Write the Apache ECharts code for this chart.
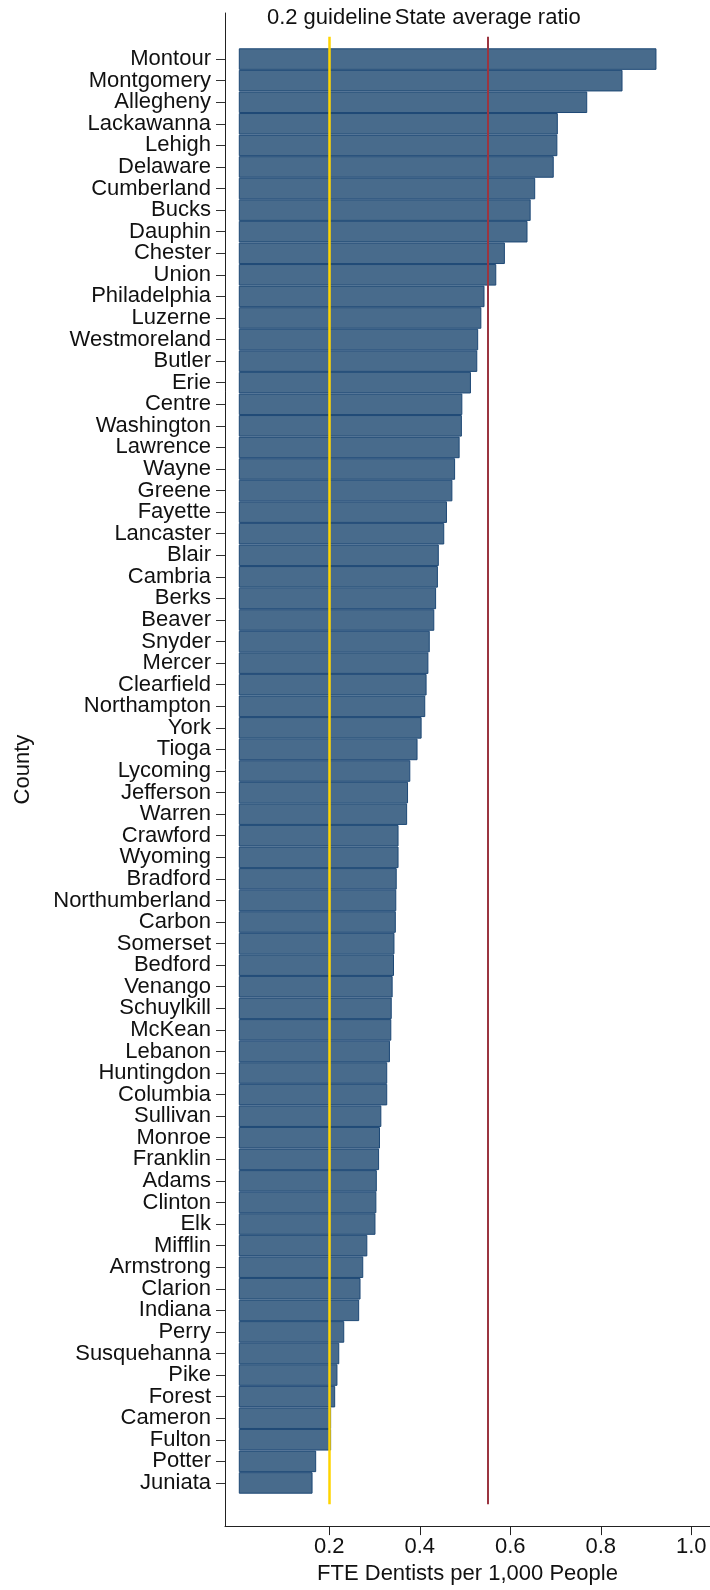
<!DOCTYPE html>
<html>
<head>
<meta charset="utf-8">
<script src="https://cdn.jsdelivr.net/npm/echarts@6/dist/echarts.min.js"></script>
<style>
  html, body { margin: 0; padding: 0; background: #fff; }
  #chart { width: 710px; height: 1590px; }
</style>
</head>
<body>
<div id="chart"></div>
<script>
const counties = [
  'Montour', 'Montgomery', 'Allegheny', 'Lackawanna', 'Lehigh', 'Delaware', 'Cumberland', 'Bucks',
  'Dauphin', 'Chester', 'Union', 'Philadelphia', 'Luzerne', 'Westmoreland', 'Butler', 'Erie',
  'Centre', 'Washington', 'Lawrence', 'Wayne', 'Greene', 'Fayette', 'Lancaster', 'Blair',
  'Cambria', 'Berks', 'Beaver', 'Snyder', 'Mercer', 'Clearfield', 'Northampton', 'York',
  'Tioga', 'Lycoming', 'Jefferson', 'Warren', 'Crawford', 'Wyoming', 'Bradford', 'Northumberland',
  'Carbon', 'Somerset', 'Bedford', 'Venango', 'Schuylkill', 'McKean', 'Lebanon', 'Huntingdon',
  'Columbia', 'Sullivan', 'Monroe', 'Franklin', 'Adams', 'Clinton', 'Elk', 'Mifflin',
  'Armstrong', 'Clarion', 'Indiana', 'Perry', 'Susquehanna', 'Pike', 'Forest', 'Cameron',
  'Fulton', 'Potter', 'Juniata'
];

const ratios = [
  0.923, 0.848, 0.770, 0.705, 0.704, 0.696, 0.655, 0.645,
  0.638, 0.588, 0.569, 0.543, 0.536, 0.529, 0.527, 0.513,
  0.494, 0.493, 0.488, 0.478, 0.472, 0.460, 0.454, 0.442,
  0.440, 0.436, 0.432, 0.422, 0.419, 0.415, 0.412, 0.404,
  0.395, 0.379, 0.374, 0.372, 0.353, 0.353, 0.349, 0.348,
  0.347, 0.344, 0.343, 0.340, 0.338, 0.337, 0.334, 0.328,
  0.328, 0.315, 0.312, 0.310, 0.305, 0.304, 0.302, 0.284,
  0.275, 0.269, 0.266, 0.233, 0.222, 0.218, 0.213, 0.204,
  0.204, 0.171, 0.163
];

const xTicks = [0.2, 0.4, 0.6, 0.8, 1.0];
const guideline = 0.2;
const stateAverage = 0.546;

const xMin = -0.0305;
const xMax = 1.0413;
const font = '"Liberation Sans", Arial, Helvetica, sans-serif';

const chart = echarts.init(document.getElementById('chart'), null, { renderer: 'canvas' });

const hiddenX = (gridIndex) => ({
  type: 'value', gridIndex, min: xMin, max: xMax,
  show: false, splitLine: { show: false }
});

chart.setOption({
  animation: false,
  backgroundColor: '#fff',
  textStyle: { fontFamily: font },
  grid: [
    // frame with the axes
    { left: 225, right: 0, top: 13, bottom: 61 },
    // bars
    { left: 225, right: 0, top: 48.3, height: 1445.4 },
    // guide lines
    { left: 225, right: 0, top: 36.7, height: 1467.6 }
  ],
  xAxis: [
    {
      type: 'value', gridIndex: 0, min: xMin, max: xMax,
      splitLine: { show: false },
      axisLine: { show: true, onZero: false, lineStyle: { color: '#222', width: 1 } },
      axisTick: { show: true, length: 9, customValues: xTicks, lineStyle: { color: '#222' } },
      axisLabel: {
        customValues: xTicks, margin: 10, fontSize: 22, color: '#111', fontFamily: font,
        formatter: (v) => v.toFixed(1)
      },
      name: 'FTE Dentists per 1,000 People',
      nameLocation: 'middle', nameGap: 35,
      nameTextStyle: { fontSize: 22, color: '#111', fontFamily: font }
    },
    hiddenX(1),
    hiddenX(2)
  ],
  yAxis: [
    {
      type: 'value', gridIndex: 0, min: 0, max: 1,
      splitLine: { show: false },
      axisLine: { show: true, onZero: false, lineStyle: { color: '#222', width: 1 } },
      axisTick: { show: false },
      axisLabel: { show: false },
      name: 'County', nameLocation: 'middle', nameGap: 191,
      nameTextStyle: { fontSize: 22, color: '#111', fontFamily: font }
    },
    {
      type: 'category', gridIndex: 1, data: counties, inverse: true,
      axisLine: { show: false, onZero: false },
      axisTick: { show: true, length: 9, alignWithLabel: true, lineStyle: { color: '#333' } },
      axisLabel: { margin: 14, fontSize: 22, color: '#111', fontFamily: font, interval: 0 }
    },
    {
      type: 'value', gridIndex: 2, min: 0, max: 1, show: false, splitLine: { show: false }
    }
  ],
  series: [
    {
      type: 'bar',
      xAxisIndex: 1, yAxisIndex: 1,
      data: ratios,
      barCategoryGap: '0%',
      itemStyle: { color: '#486b8c', borderColor: '#1d4875', borderWidth: 1 },
      z: 2
    },
    {
      type: 'line',
      xAxisIndex: 2, yAxisIndex: 2,
      data: [],
      z: 5,
      markLine: {
        silent: true,
        symbol: 'none',
        animation: false,
        label: {
          show: true, position: 'end', distance: 8,
          fontSize: 22, color: '#111', fontFamily: font
        },
        data: [
          { xAxis: guideline, lineStyle: { color: '#ffd400', width: 2.5, type: 'solid' },
            label: { formatter: '0.2 guideline' } },
          { xAxis: stateAverage, lineStyle: { color: '#9b3540', width: 2, type: 'solid' },
            label: { formatter: 'State average ratio' } }
        ]
      }
    }
  ]
});
</script>
</body>
</html>
